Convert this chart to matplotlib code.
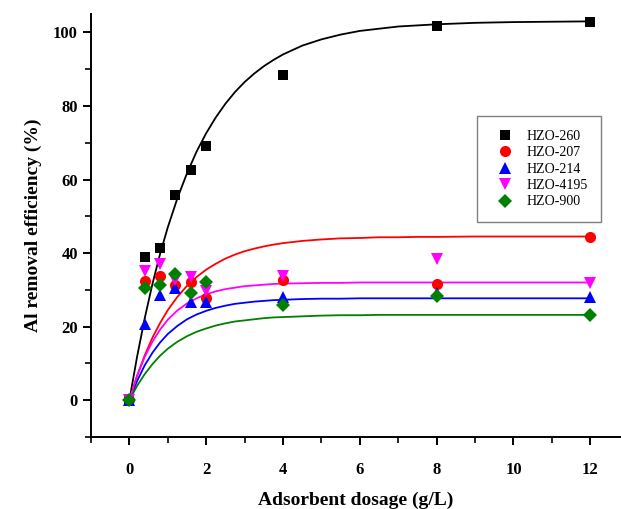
import numpy as np
import matplotlib
matplotlib.use("Agg")
import matplotlib.pyplot as plt
from matplotlib.ticker import MultipleLocator

plt.rcParams.update({
    "font.family": "serif",
    "font.serif": ["Liberation Serif", "DejaVu Serif"],
})

# ── measured data (dosage g/L vs Al removal %) ────────────────────────────────
dosage = [0, 0.4, 0.8, 1.2, 1.6, 2, 4, 8, 12]

hzo_260  = [0, 39.0, 41.5, 55.7, 62.6, 69.2, 88.3, 101.7, 102.7]
hzo_207  = [0, 32.5, 33.8, 31.3, 32.2, 27.7, 32.7, 31.5, 44.4]
hzo_214  = [0, 20.7, 28.6, 30.4, 26.8, 26.8, 28.0, 29.2, 28.0]
hzo_4195 = [0, 35.2, 37.0, 32.7, 33.4, 29.8, 33.8, 38.4, 31.8]
hzo_900  = [0, 30.4, 31.3, 34.2, 29.2, 32.1, 26.0, 28.3, 23.1]

# ── fitted curves ────────────────────────────────────────────────────────────
fit_x = [0, 0.2, 0.4, 0.6, 0.8, 1.0, 1.25, 1.5, 1.75, 2.0, 2.25, 2.5, 2.75,
         3.0, 3.25, 3.5, 3.75, 4.0, 4.5, 5.0, 5.5, 6.0, 6.5, 7.0, 7.5, 8.0,
         9.0, 10.0, 11.0, 12.0]
fit_260  = [0, 11.8, 22.3, 31.6, 39.8, 47.0, 54.9, 61.7, 67.6, 72.6, 76.9,
            80.6, 83.8, 86.5, 88.8, 90.8, 92.5, 94.0, 96.4, 98.1, 99.4,
            100.4, 101.0, 101.6, 101.9, 102.2, 102.6, 102.8, 102.9, 103.0]
fit_207  = [0, 6.6, 12.2, 17.0, 21.0, 24.5, 28.1, 31.1, 33.5, 35.5, 37.1,
            38.5, 39.6, 40.5, 41.2, 41.8, 42.3, 42.7, 43.3, 43.7, 44.0,
            44.1, 44.3, 44.3, 44.4, 44.4, 44.5, 44.5, 44.5, 44.5]
fit_214  = [0, 5.2, 9.5, 12.9, 15.7, 18.0, 20.2, 22.0, 23.3, 24.3, 25.1,
            25.7, 26.2, 26.5, 26.8, 27.0, 27.2, 27.3, 27.5, 27.6, 27.6,
            27.7, 27.7, 27.7, 27.7, 27.7, 27.7, 27.7, 27.7, 27.7]
fit_4195 = [0, 6.6, 11.8, 15.9, 19.2, 21.9, 24.4, 26.3, 27.7, 28.8, 29.6,
            30.2, 30.6, 31.0, 31.2, 31.4, 31.6, 31.7, 31.8, 31.9, 31.9,
            32.0, 32.0, 32.0, 32.0, 32.0, 32.0, 32.0, 32.0, 32.0]
fit_900  = [0, 3.9, 7.1, 9.8, 12.1, 14.0, 15.9, 17.4, 18.6, 19.5, 20.3,
            20.9, 21.4, 21.7, 22.0, 22.3, 22.5, 22.6, 22.8, 23.0, 23.1,
            23.1, 23.2, 23.2, 23.2, 23.2, 23.2, 23.2, 23.2, 23.2]

labels  = ["HZO-260", "HZO-207", "HZO-214", "HZO-4195", "HZO-900"]
colors  = ["black", "#ff0000", "#0000ff", "#ff00ff", "#008000"]
markers = ["s", "o", "^", "v", "D"]
msizes  = [7, 8, 8.5, 8.5, 7.5]

series = [hzo_260, hzo_207, hzo_214, hzo_4195, hzo_900]
fits   = [fit_260, fit_207, fit_214, fit_4195, fit_900]

fig = plt.figure(figsize=(6.21, 5.09), dpi=100)
ax = fig.add_axes([0.1465, 0.1415, 0.8535, 0.831])

for fy, c in zip(fits, colors):
    ax.plot(fit_x, fy, "-", color=c, lw=1.3, zorder=2)

for y, c, m, ms, lab in zip(series, colors, markers, msizes, labels):
    ax.plot(dosage, y, ls="none", marker=m, color=c, ms=ms,
            markeredgewidth=0, label=lab, zorder=3)

ax.set_xlim(-1, 12.8)
ax.set_ylim(-10, 105)
ax.xaxis.set_major_locator(MultipleLocator(2))
ax.xaxis.set_minor_locator(MultipleLocator(1))
ax.yaxis.set_major_locator(MultipleLocator(20))
ax.yaxis.set_minor_locator(MultipleLocator(10))

for s in ["top", "right"]:
    ax.spines[s].set_visible(False)
for s in ["left", "bottom"]:
    ax.spines[s].set_linewidth(1.4)

ax.tick_params(which="major", direction="out", length=6, width=1.4,
               labelsize=12)
ax.tick_params(which="minor", direction="out", length=4, width=1.2)
ax.tick_params(axis="x", which="major", pad=12)
for t in ax.get_xticklabels() + ax.get_yticklabels():
    t.set_fontweight("bold")

ax.set_xlabel("Adsorbent dosage (g/L)", fontsize=14, fontweight="bold",
              labelpad=10)
ax.set_ylabel("Al removal efficiency (%)", fontsize=14, fontweight="bold",
              labelpad=8)

leg = ax.legend(loc="upper left", bbox_to_anchor=(0.715, 0.776),
                fontsize=10, frameon=True, fancybox=False, framealpha=1,
                edgecolor="#808080", borderpad=1.0, labelspacing=0.25,
                handletextpad=0.55, handlelength=2.0)
leg.get_frame().set_linewidth(1.0)

fig.savefig("out.png", dpi=100)
